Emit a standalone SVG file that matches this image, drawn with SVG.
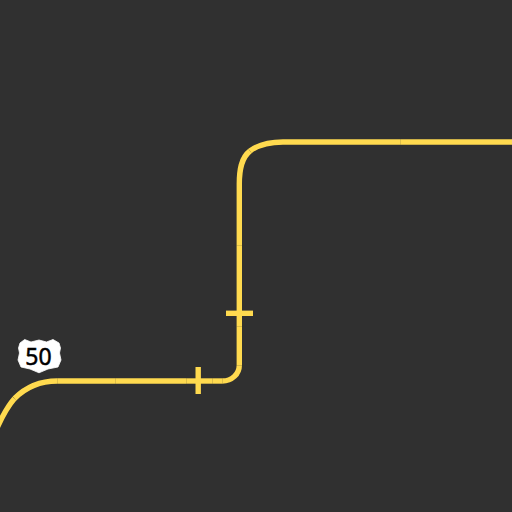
<svg xmlns="http://www.w3.org/2000/svg" width="512" height="512" viewBox="0 0 512 512">
<style>
.road{fill:none;stroke:#ffda4f;stroke-width:5.400;stroke-linecap:butt;stroke-linejoin:round}
.tick{fill:none;stroke:#ffda4f;stroke-width:5.400}
</style>
<rect width="512" height="512" fill="#303030"/>
<g id="connectors">
<path class="road" d="M-3 428C2 417 7 407 14.500 398.500"/>
<path class="road" d="M14.500 398.500C25 388 40 381 57.200 381"/>
<path class="road" d="M57.200 381L115.200 381"/>
<path class="road" d="M115.200 381L186.200 381"/>
<path class="road" d="M186.200 381L212.200 381"/>
<path class="road" d="M212.200 381L222.200 381"/>
<path class="road" d="M222.200 381C232 381 239.300 374 239.300 365.200"/>
<path class="road" d="M239.300 365.200L239.300 326.200"/>
<path class="road" d="M239.300 326.200L239.300 245.200"/>
<path class="road" d="M239.300 245.200L239.300 184"/>
<path class="road" d="M239.300 184C239.300 170 241 158 250 151"/>
<path class="road" d="M250 151C258 145 268 142 283 142"/>
<path class="road" d="M283 142L400.200 142"/>
<path class="road" d="M400.200 142L515 142"/>
</g>
<g id="bridge-1"><path class="tick" d="M198.200 367V394"/></g>
<g id="bridge-2"><path class="tick" d="M226 313.300H253"/></g>
<g id="shield-50">
<path d="M24.700 339.500L31 342L39 340L46.500 342L53 339.500L59 343L60.500 348L59.500 353L61 360L58 367L48 369L39 372.800L30 369L21 367L18 360L19.500 353L18.500 348L20 343Z" fill="#fff" stroke="#fff" stroke-width=".8" stroke-linejoin="round"/>
<text x="38.500" y="365" text-anchor="middle" font-family="'Noto Sans',sans-serif" font-size="23" fill="#000" stroke="#000" stroke-width=".5">50</text>
</g>
</svg>
